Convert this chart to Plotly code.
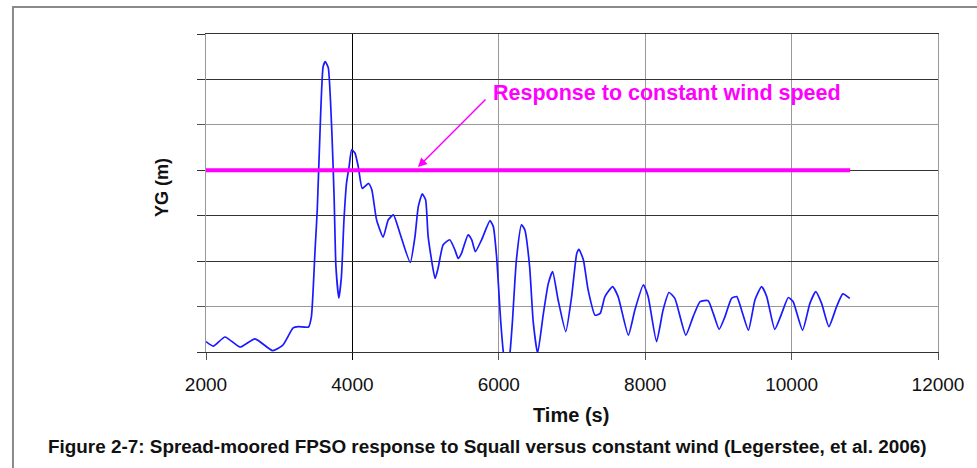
import plotly.graph_objects as go

# ---- data (YG in arbitrary gridline units) ----
time_s = [2000, 2100, 2260, 2465, 2670, 2910, 3050, 3190, 3260, 3400, 3440, 3490, 3520,
          3560, 3600, 3630, 3670, 3720, 3750, 3775, 3815, 3850, 3885, 3920, 3955, 3990,
          4035, 4080, 4135, 4220, 4265, 4330, 4420, 4490, 4560, 4650, 4790, 4855, 4900,
          4955, 5000, 5035, 5130, 5170, 5240, 5330, 5400, 5445, 5490, 5580, 5630, 5680,
          5765, 5880, 5925, 5970, 6025, 6065, 6100, 6150, 6185, 6240, 6310, 6355, 6420,
          6470, 6530, 6605, 6675, 6735, 6810, 6915, 6995, 7065, 7095, 7155, 7220, 7315,
          7385, 7450, 7555, 7630, 7770, 7860, 7975, 8040, 8155, 8245, 8325, 8405, 8555,
          8655, 8750, 8860, 8930, 9010, 9090, 9180, 9250, 9315, 9410, 9500, 9590, 9660,
          9770, 9865, 9955, 10020, 10150, 10250, 10330, 10410, 10510, 10615, 10700, 10795]
yg_squall = [0.23, 0.13, 0.33, 0.11, 0.29, 0.03, 0.15, 0.53, 0.56, 0.55, 0.78, 2.25, 3.13,
             4.96, 6.28, 6.39, 6.26, 4.82, 3.42, 1.88, 1.19, 1.66, 2.91, 3.72, 4.08, 4.45,
             4.38, 4.08, 3.60, 3.71, 3.57, 2.91, 2.53, 2.91, 3.02, 2.61, 1.97, 2.54, 3.20,
             3.48, 3.35, 2.54, 1.62, 1.84, 2.36, 2.47, 2.25, 2.06, 2.17, 2.58, 2.47, 2.21,
             2.47, 2.89, 2.76, 2.10, 0.70, -0.05, -0.40, -0.05, 0.64, 2.02, 2.80, 2.69, 1.90,
             0.67, -0.03, 0.80, 1.50, 1.77, 1.15, 0.45, 1.22, 2.17, 2.26, 2.03, 1.37, 0.81,
             0.85, 1.22, 1.44, 1.22, 0.37, 0.93, 1.48, 1.22, 0.23, 0.93, 1.31, 1.18, 0.37,
             0.78, 1.11, 1.13, 0.85, 0.50, 0.78, 1.18, 1.22, 0.93, 0.48, 1.15, 1.44, 1.22,
             0.50, 0.85, 1.20, 1.11, 0.48, 1.07, 1.33, 1.07, 0.56, 1.00, 1.28, 1.18]

const_time = [2000, 10800]
const_yg = [4.0, 4.0]

x_ticks = [2000, 4000, 6000, 8000, 10000, 12000]
x_tick_text = ["2000", "4000", "6000", "8000", "10000", "12000"]
y_grid_dark = [0, 2, 3, 4, 6, 7]
x_grid_dark = [4000]

FONT = "Liberation Sans, Arial, sans-serif"

fig = go.Figure()
fig.add_trace(go.Scatter(x=time_s, y=yg_squall, mode="lines",
                         line=dict(color="#1a1aff", width=1.7, shape="spline", smoothing=0.5),
                         xaxis="x", yaxis="y", showlegend=False, hoverinfo="skip"))
fig.add_trace(go.Scatter(x=const_time, y=const_yg, mode="lines",
                         line=dict(color="#ff00ff", width=4),
                         xaxis="x2", yaxis="y2", showlegend=False, hoverinfo="skip"))

fig.update_layout(
    width=977, height=468,
    margin=dict(l=206, r=39, t=34, b=116),
    paper_bgcolor="white", plot_bgcolor="white",
    font=dict(family=FONT, color="#111"),
    xaxis=dict(range=[2000, 12000], tickvals=x_ticks, ticktext=x_tick_text, showgrid=True,
               gridcolor="#999", gridwidth=1.2, ticks="outside", ticklen=7,
               tickcolor="#555", showline=True, mirror=True, linecolor="#333", linewidth=1.2,
               zeroline=False,
               tickfont=dict(size=19, family=FONT, color="#111"),
               ticklabelstandoff=8),
    yaxis=dict(range=[0, 7], dtick=1, showgrid=True, gridcolor="#999", gridwidth=1.2,
               ticks="outside", ticklen=8, tickcolor="#555", showticklabels=False,
               zeroline=False, showline=True, mirror=True, linecolor="#999", linewidth=1.2),
    xaxis2=dict(range=[2000, 12000], overlaying="x", anchor="y2", tickvals=x_grid_dark,
                showgrid=True, gridcolor="#000", gridwidth=1.2, showticklabels=False,
                ticks="outside", ticklen=7, tickcolor="#000", zeroline=False, side="bottom"),
    yaxis2=dict(range=[0, 7], overlaying="y", anchor="x2", tickvals=y_grid_dark,
                showgrid=True, gridcolor="#333", gridwidth=1.2, showticklabels=False,
                ticks="outside", ticklen=8, tickcolor="#333", zeroline=False),
)

# outer frame
fig.add_shape(type="rect", xref="paper", yref="paper", x0=-0.2637, x1=1.06,
              y0=-0.42, y1=1.085, line=dict(color="#8a8a8a", width=2), layer="below")

# annotations / titles
fig.add_annotation(x=4896, y=4.07, ax=5839, ay=5.59, xref="x", yref="y",
                   axref="x", ayref="y", showarrow=True, arrowhead=2, arrowsize=1.2,
                   arrowwidth=1.5, arrowcolor="#ff00ff", text="")
fig.add_annotation(x=8298, y=5.70, xref="x", yref="y", showarrow=False,
                   text="<b>Response to constant wind speed</b>",
                   font=dict(size=21.5, color="#ff00ff", family=FONT))
fig.add_annotation(x=0.4986, y=-0.198, xref="paper", yref="paper", showarrow=False,
                   text="<b>Time (s)</b>", font=dict(size=20, family=FONT, color="#111"),
                   yanchor="middle")
fig.add_annotation(x=-0.0765, y=0.516, xref="paper", yref="paper", showarrow=False,
                   text="<b>YG (m)</b>", textangle=-90,
                   font=dict(size=18, family=FONT, color="#111"))
fig.add_annotation(x=0.384, y=-0.2956, xref="paper", yref="paper", showarrow=False,
                   text="<b>Figure 2-7: Spread-moored FPSO response to Squall versus constant wind (Legerstee, et al. 2006)</b>",
                   font=dict(size=18.9, family=FONT, color="#111"), yanchor="middle")

fig.write_html("out.html")
